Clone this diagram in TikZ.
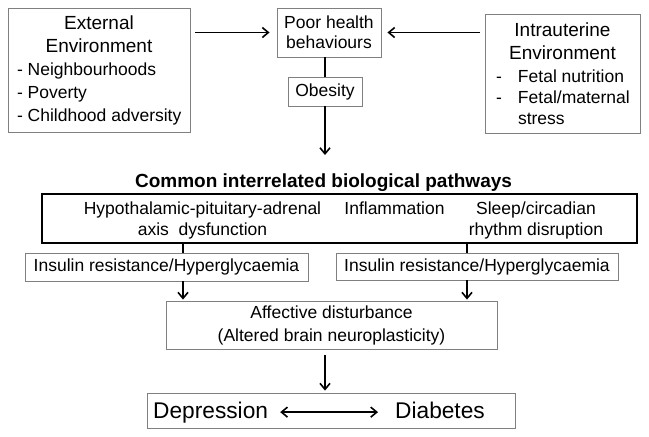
\documentclass[tikz,border=0pt]{standalone}
\usepackage{fontspec}
\setmainfont{Liberation Sans}
\usetikzlibrary{positioning,arrows.meta}

\begin{document}
\begin{tikzpicture}[%
        x=1pt, y=-1pt,
        >={Straight Barb[length=6pt,width=10pt]},
        box/.style={draw=gray, line width=0.9pt, inner sep=0pt, align=center,
            font=\fontsize{17.5}{21}\selectfont},
        txt/.style={inner sep=0pt, align=center, font=\fontsize{17.5}{21}\selectfont},
        arr/.style={->, line width=1.6pt},
        link/.style={line width=1.6pt}
        ]

        \useasboundingbox (0,0) rectangle (649,437);

        % sources and behaviours
        \node[box, minimum width=182pt, minimum height=124pt,
            font=\fontsize{19}{23}\selectfont] (ext) at (99,70)
            {External\\Environment\\
             {\fontsize{17.5}{23}\selectfont\makebox[164pt][l]{- Neighbourhoods}}\\
             {\fontsize{17.5}{23}\selectfont\makebox[164pt][l]{- Poverty}}\\
             {\fontsize{17.5}{23}\selectfont\makebox[164pt][l]{- Childhood adversity}}};
        \node[box, minimum width=104pt, minimum height=49pt,
            font=\fontsize{17.5}{20}\selectfont] (poor) at (329,32.5)
            {Poor health\\behaviours};
        \node[box, minimum width=74pt, minimum height=29pt] (obes) at (325,91.5) {Obesity};
        \node[box, minimum width=155pt, minimum height=119pt,
            font=\fontsize{19}{21}\selectfont] (intra) at (562.5,73.5)
            {Intrauterine\\[2pt]Environment\\[2pt]
             {\fontsize{17.5}{21}\selectfont\makebox[133pt][l]{\makebox[22pt][l]{-}Fetal nutrition}}\\
             {\fontsize{17.5}{21}\selectfont\makebox[133pt][l]{\makebox[22pt][l]{-}Fetal/maternal}}\\
             {\fontsize{17.5}{21}\selectfont\makebox[133pt][l]{\hspace*{22pt}stress}}};
        \coordinate (obtip) at (325,155);

        \draw[arr, shorten <=5pt, shorten >=7pt] (ext.east |- poor.west) -- (poor.west);
        \draw[arr, shorten <=5pt, shorten >=6pt] (intra.west |- poor.east) -- (poor.east);
        \draw[link] (obes.north |- poor.south) -- (obes.north);
        \draw[arr] (obes.south) -- (obtip);

        % pathways
        \node[anchor=base, inner sep=0pt, font=\bfseries\fontsize{19}{22}\selectfont]
            (title) at (323.5,187) {Common interrelated biological pathways};
        \node[draw, line width=1.3pt, minimum width=595pt, minimum height=49pt,
            inner sep=0pt] (path) at (339.5,218.5) {};
        \node[txt] (hpa) at (202.5,220) {Hypothalamic-pituitary-adrenal\\axis\ \ dysfunction};
        \node[txt, anchor=base] (infl) at (394.5,214) {Inflammation};
        \node[txt] (sleep) at (536,220) {Sleep/circadian\\rhythm disruption};

        \node[box, minimum width=283pt, minimum height=28pt] (insl) at (166.5,267)
            {Insulin resistance/Hyperglycaemia};
        \node[box, minimum width=282pt, minimum height=27pt] (insr) at (477,266.5)
            {Insulin resistance/Hyperglycaemia};

        \draw[link] ([xshift=16.5pt]insl.north) -- ([xshift=16.5pt]insl.north |- path.south);
        \draw[link] ([xshift=-10pt]insr.north) -- ([xshift=-10pt]insr.north |- path.south);

        % outcome
        \node[box, minimum width=331pt, minimum height=48pt,
            font=\fontsize{17.5}{23}\selectfont] (aff) at (331.5,325)
            {Affective disturbance\\(Altered brain neuroplasticity)};
        \draw[arr, shorten >=1pt] ([xshift=16.5pt]insl.south) -- ([xshift=16.5pt]insl.south |- aff.north);
        \draw[arr, shorten >=1pt] ([xshift=-10pt]insr.south) -- ([xshift=-10pt]insr.south |- aff.north);

        \node[box, minimum width=368pt, minimum height=35pt] (dep) at (331,410.5) {};
        \node[inner sep=0pt, anchor=base west, font=\fontsize{22.7}{26}\selectfont]
            (depr) at (153,418) {Depression};
        \node[inner sep=0pt, anchor=base west, font=\fontsize{22.7}{26}\selectfont]
            (diab) at (395,418) {Diabetes};

        \draw[arr, shorten <=6pt, shorten >=2pt] (aff.south -| obtip) -- (dep.north -| obtip);
        \draw[<->, line width=1.6pt, shorten <=12pt, shorten >=17pt]
            (depr.east) -- (depr.east -| diab.west);

\end{tikzpicture}
\end{document}
